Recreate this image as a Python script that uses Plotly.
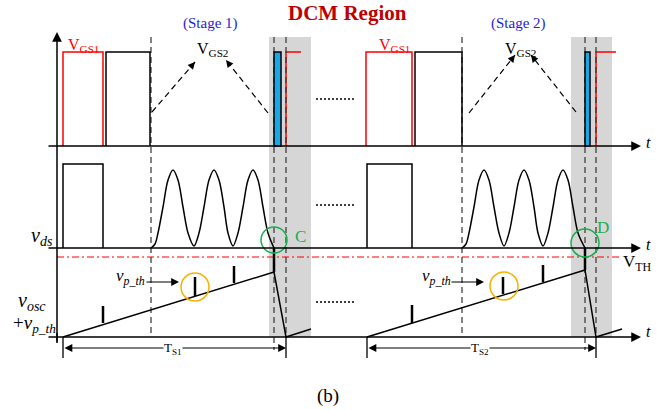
import math
import plotly.graph_objects as go

W, H = 671, 410

# ---------------- data (schematic units, 1 unit = 1 px) ----------------
axis_left_x = 57
axis_y_range = [343, 32]
baseline_x = [47, 641]
panel_baselines = [146, 248, 337]           # VGS panel, vds panel, vosc panel
t_label_y = [142, 244, 331]
vth_y = 257
vth_x = [57, 620]

band_x = [[269, 311], [571, 612]]
band_y = [37, 337]

gate_high = 52
vgs1_pulse_x = [[63, 103], [366, 412]]
vgs_black_pulse_x = [[106, 150], [415, 462]]
vgs2_blue_x = [[274, 281], [585, 590]]
vgs1_next_x = [[286, 301], [596, 616]]

dash_stage_x = [151, 462]
dash_stage_y = [37, 337]
dash_blue_x = [274, 585]
dash_blue_y = [37, 350]
dash_next_x = [286, 596]
dash_next_y = [37, 337]

vds_high = 164
vds_pulse_x = [[63, 103], [367, 412]]
ring_x = [[151, 155, 158, 163, 168, 173, 178, 183, 188, 194, 199, 204, 209,
           214, 219, 224, 228, 233, 238, 243, 248, 253, 258, 263, 268, 274],
          [462, 466, 469, 474, 479, 484, 489, 494, 499, 504, 509, 514, 519,
           524, 529, 534, 538, 543, 548, 553, 558, 563, 568, 573, 578, 585]]
ring_y = [248, 244, 233, 207, 180, 170, 180, 207, 233, 246, 233, 207, 180,
          170, 180, 207, 233, 246, 233, 207, 180, 170, 180, 207, 233, 248]
link_x = [274, 585]
link_y = [[248, 272], [248, 270]]

ramp_x = [[63, 274, 286, 311], [367, 585, 596, 622]]
ramp_y = [[337, 272, 337, 329], [337, 270, 337, 329]]
spike_x = [[103, 195, 234], [412, 503, 543]]
spike_base = [[323, 296, 283], [323, 294, 282]]
spike_top = [[306, 277, 266], [305, 277, 265]]

green_circles = [(274, 240, 13), (585, 243, 14)]
green_labels = [("C", 300, 236), ("D", 603, 227)]
orange_circles = [(195, 287, 14), (504, 286, 14)]

vgs2_arrows = [[(152, 112), (195, 62)], [(268, 113), (226, 60)],
               [(469, 113), (515, 55)], [(576, 112), (531, 55)]]
vpth_arrows = [[(145, 282), (179, 282)], [(450, 282), (484, 282)]]
vpth_label_x = [130, 436]
vpth_label_y = 277

dots_x = [316, 356]
dots_y = [99, 205, 302]

ts_x = [[63, 286], [367, 596]]
ts_y = 348
ts_tick_y = [337, 358]
ts_labels = ["T<sub>S1</sub>", "T<sub>S2</sub>"]
ts_label_x = [173, 480]

stage_labels = ["(Stage 1)", "(Stage 2)"]
stage_label_x = [210, 518]
vgs2_label_x = [212, 520]
vgs1_label_x = [83, 394]

BLACK = "#000000"
RED = "#ff0000"
SERIF = "Liberation Serif"

fig = go.Figure()


def line(xs, ys, color=BLACK, width=1.5, dash=None, shape="linear"):
    fig.add_trace(go.Scatter(x=xs, y=ys, mode="lines", hoverinfo="skip",
                             line=dict(color=color, width=width, dash=dash, shape=shape,
                                       smoothing=0.9 if shape == "spline" else None)))


def arrow(x0, y0, x1, y1, color=BLACK, width=1.5, size=1.2, head=2, side="end"):
    fig.add_annotation(x=x1, y=y1, ax=x0, ay=y0, xref="x", yref="y", axref="x", ayref="y",
                       text="", showarrow=True, arrowhead=head, arrowsize=size,
                       arrowwidth=width, arrowcolor=color, arrowside=side,
                       startarrowhead=head, startarrowsize=size)


def text(s, x, y, size=16, color=BLACK, xanchor="center", yanchor="middle", bg=None):
    fig.add_annotation(x=x, y=y, xref="x", yref="y", text=s, showarrow=False,
                       xanchor=xanchor, yanchor=yanchor,
                       font=dict(family=SERIF, size=size, color=color),
                       bgcolor=bg, borderpad=0)


# gray bands
for bx in band_x:
    fig.add_shape(type="rect", x0=bx[0], x1=bx[1], y0=band_y[0], y1=band_y[1],
                  fillcolor="#d6d6d6", line=dict(width=0), layer="below")

# red dash-dot VTH
line(vth_x, [vth_y, vth_y], color=RED, width=1.2, dash="7px,3px,2px,3px")

# dashed verticals
for x in dash_stage_x:
    line([x, x], dash_stage_y, color="#333333", width=1.2, dash="6px,4px")
for x in dash_blue_x:
    line([x, x], dash_blue_y, color="#333333", width=1.2, dash="6px,4px")

# top panel pulses
b0 = panel_baselines[0]
for px in vgs1_pulse_x:
    line([px[0], px[0], px[1], px[1]], [b0, gate_high, gate_high, b0], color=RED)
for px in vgs_black_pulse_x:
    line([px[0], px[0], px[1], px[1]], [b0, gate_high, gate_high, b0])
for px in vgs2_blue_x:
    fig.add_shape(type="rect", x0=px[0], x1=px[1], y0=gate_high, y1=b0,
                  fillcolor="#19a7e6", line=dict(color=BLACK, width=1.5))
for px in vgs1_next_x:
    line([px[0], px[0], px[1]], [b0, gate_high, gate_high], color=RED)
for x in dash_next_x:
    line([x, x], dash_next_y, color="#333333", width=1.2, dash="6px,4px")

# middle panel
b1 = panel_baselines[1]
for px in vds_pulse_x:
    line([px[0], px[0], px[1], px[1]], [b1, vds_high, vds_high, b1])
for rx in ring_x:
    line(rx, ring_y, shape="spline")
for lx, ly in zip(link_x, link_y):
    line([lx, lx], ly, width=2.5)

# bottom panel
for rx, ry in zip(ramp_x, ramp_y):
    line(rx, ry)
for sx, sb, st in zip(spike_x, spike_base, spike_top):
    for x, y0, y1 in zip(sx, sb, st):
        line([x, x], [y0, y1], width=2.5)

# circles
for cx, cy, r in green_circles:
    fig.add_shape(type="circle", x0=cx - r, x1=cx + r, y0=cy - r, y1=cy + r,
                  line=dict(color="#1aaf50", width=1.5))
for cx, cy, r in orange_circles:
    fig.add_shape(type="circle", x0=cx - r, x1=cx + r, y0=cy - r, y1=cy + r,
                  line=dict(color="#f5b400", width=1.5))

# axes
line([axis_left_x, axis_left_x], [axis_y_range[0], axis_y_range[0] - 10])
arrow(axis_left_x, axis_y_range[0], axis_left_x, axis_y_range[1], width=1.5, size=1.3)
for by in panel_baselines:
    arrow(baseline_x[0], by, baseline_x[1], by, width=1.5, size=1.3)

# dotted continuation marks
for dy in dots_y:
    line(dots_x, [dy, dy], width=1.3, dash="2px,2px")

# VGS2 dashed arrows
for (x0, y0), (x1, y1) in vgs2_arrows:
    line([x0, x1], [y0, y1], width=1.2, dash="6px,4px")
    d = math.hypot(x1 - x0, y1 - y0)
    ux, uy = (x1 - x0) / d, (y1 - y0) / d
    arrow(x1 - 8 * ux, y1 - 8 * uy, x1, y1, width=1.2, size=1.2)

# vp_th arrows
for (x0, y0), (x1, y1) in vpth_arrows:
    arrow(x0, y0, x1, y1, width=1.2, size=1.3)

# T_S dimension lines
for tx, lab, lx in zip(ts_x, ts_labels, ts_label_x):
    for x in tx:
        line([x, x], ts_tick_y, width=1.3)
    arrow(tx[0], ts_y, tx[1], ts_y, width=1.2, size=1.3, side="end+start")
    text(lab, lx, ts_y, size=13, bg="white")

# texts
text("<b>DCM Region</b>", 347, 13, size=21, color="#c00000")
for s, x in zip(stage_labels, stage_label_x):
    text(s, x, 23, size=15, color="#1f1fd0")
for x in vgs2_label_x:
    text("V<sub>GS2</sub>", x, 49, size=16)
for x in vgs1_label_x:
    text("V<sub>GS1</sub>", x, 45, size=16, color=RED)
for y in t_label_y:
    text("<i>t</i>", 648, y, size=16)
text("<i>v<sub>ds</sub></i>", 42, 236, size=20)
text("<i>v<sub>osc</sub></i>", 32, 301, size=20)
text("+<i>v<sub>p_th</sub></i>", 34, 324, size=19)
for x in vpth_label_x:
    text("<i>v<sub>p_th</sub></i>", x, vpth_label_y, size=17)
for s, x, y in green_labels:
    text(s, x, y, size=17, color="#1aaf50")
text("V<sub>TH</sub>", 622, 263, size=17, xanchor="left")
text("(b)", 328, 396, size=19)

fig.update_layout(
    width=W, height=H, margin=dict(l=0, r=0, t=0, b=0),
    paper_bgcolor="white", plot_bgcolor="white", showlegend=False,
    xaxis=dict(range=[0, W], visible=False, fixedrange=True),
    yaxis=dict(range=[H, 0], visible=False, fixedrange=True),
)
fig.write_html("out.html", config={"displayModeBar": False},
               post_script="document.body.style.margin='0';document.body.style.overflow='hidden';")
